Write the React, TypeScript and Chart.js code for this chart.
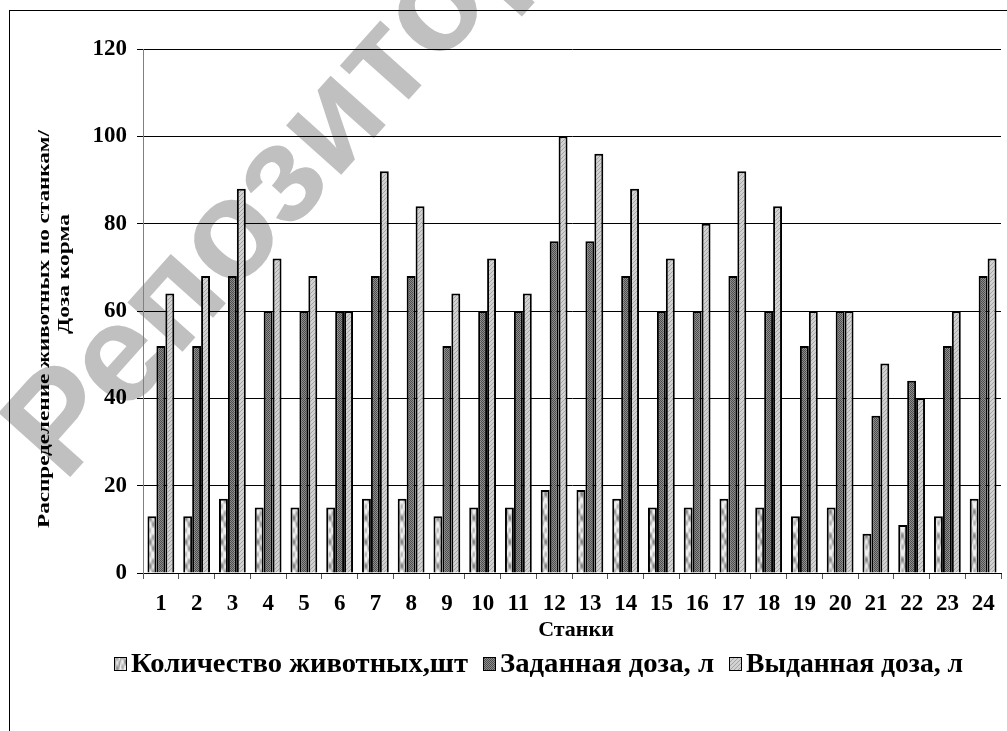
import React, { useEffect, useRef } from "react";
import { Chart, registerables } from "chart.js";

Chart.register(...registerables);

// ---------- data ----------
const stalls = ["1", "2", "3", "4", "5", "6", "7", "8", "9", "10", "11", "12", "13", "14", "15", "16", "17", "18", "19", "20", "21", "22", "23", "24"];
const animalCount = [13, 13, 17, 15, 15, 15, 17, 17, 13, 15, 15, 19, 19, 17, 15, 15, 17, 15, 13, 15, 9, 11, 13, 17];
const setDose = [52, 52, 68, 60, 60, 60, 68, 68, 52, 60, 60, 76, 76, 68, 60, 60, 68, 60, 52, 60, 36, 44, 52, 68];
const givenDose = [64, 68, 88, 72, 68, 60, 92, 84, 64, 72, 64, 100, 96, 88, 72, 80, 92, 84, 60, 60, 48, 40, 60, 72];
const seriesNames = ["Количество животных,шт", "Заданная доза, л", "Выданная доза, л"];
const yMin = 0;
const yMax = 120;
const yStep = 20;
const yTitleLines = ["Распределение животных по станкам/", "Доза корма"];
const xTitle = "Станки";
const watermark = "Репозиторий";

const SERIF = '"Liberation Serif", "Times New Roman", serif';

function makeCanvas(w: number, h: number) {
  const c = document.createElement("canvas");
  c.width = w;
  c.height = h;
  return c;
}

function mottledPattern(ctx: CanvasRenderingContext2D) {
  const w = 12, h = 48;
  const c = makeCanvas(w, h);
  const g = c.getContext("2d")!;
  const img = g.createImageData(w, h);
  for (let y = 0; y < h; y++) {
    for (let x = 0; x < w; x++) {
      const t =
        Math.sin((x / w) * Math.PI * 2 + y * 0.13) * Math.sin((y / h) * Math.PI * 6 + x * 0.3 + 1) +
        0.45 * Math.sin((x / w) * Math.PI * 4 - (y / h) * Math.PI * 8);
      const v = Math.max(120, Math.min(240, Math.round(205 + t * 55)));
      const i = (y * w + x) * 4;
      img.data[i] = v;
      img.data[i + 1] = v;
      img.data[i + 2] = v;
      img.data[i + 3] = 255;
    }
  }
  g.putImageData(img, 0, 0);
  return ctx.createPattern(c, "repeat")!;
}

function checkerPattern(ctx: CanvasRenderingContext2D, a: string, b: string) {
  const c = makeCanvas(2, 2);
  const g = c.getContext("2d")!;
  g.fillStyle = a;
  g.fillRect(0, 0, 2, 2);
  g.fillStyle = b;
  g.fillRect(1, 0, 1, 1);
  g.fillRect(0, 1, 1, 1);
  return ctx.createPattern(c, "repeat")!;
}

function diagPattern(ctx: CanvasRenderingContext2D, base: string, line: string) {
  const c = makeCanvas(4, 4);
  const g = c.getContext("2d")!;
  g.fillStyle = base;
  g.fillRect(0, 0, 4, 4);
  g.fillStyle = line;
  for (let i = 0; i < 4; i++) g.fillRect(i, 3 - i, 1, 1);
  return ctx.createPattern(c, "repeat")!;
}

export default function App() {
  const ref = useRef<HTMLCanvasElement | null>(null);

  useEffect(() => {
    const canvas = ref.current!;
    const ctx0 = canvas.getContext("2d")!;
    const fills = [
      mottledPattern(ctx0),
      checkerPattern(ctx0, "#4c4c4c", "#8e8e8e"),
      diagPattern(ctx0, "#d2d2d2", "#a4a4a4"),
    ];

    const decor = {
      id: "decor",
      beforeDraw(chart: any) {
        const ctx: CanvasRenderingContext2D = chart.ctx;
        ctx.save();
        ctx.fillStyle = "#ffffff";
        ctx.fillRect(0, 0, chart.width, chart.height);
        // watermark
        ctx.translate(64, 484);
        ctx.rotate(-0.84);
        ctx.font = 'bold 140px "Liberation Sans", Arial, sans-serif';
        ctx.fillStyle = "#c0c0c0";
        ctx.textBaseline = "alphabetic";
        ctx.fillText(watermark, 0, 0);
        ctx.restore();
        // outer border
        ctx.save();
        ctx.strokeStyle = "#000";
        ctx.lineWidth = 1;
        ctx.strokeRect(9.5, 10.5, 1200, 1200);
        ctx.restore();
      },
      afterDraw(chart: any) {
        const ctx: CanvasRenderingContext2D = chart.ctx;
        const area = chart.chartArea;
        ctx.save();
        ctx.fillStyle = "#000";
        // y title (two lines, stretched along length)
        ctx.font = `bold 16px ${SERIF}`;
        ctx.textAlign = "center";
        ctx.textBaseline = "middle";
        const yt = [
          { text: yTitleLines[0], x: 45, y: 329, len: 398 },
          { text: yTitleLines[1], x: 65, y: 274, len: 120 },
        ];
        for (const t of yt) {
          ctx.save();
          ctx.translate(t.x, t.y);
          ctx.rotate(-Math.PI / 2);
          const w = ctx.measureText(t.text).width;
          ctx.scale(t.len / w, 1);
          ctx.fillText(t.text, 0, 0);
          ctx.restore();
        }
        // x title
        ctx.font = `bold 22px ${SERIF}`;
        ctx.fillText(xTitle, (area.left + area.right) / 2 + 4, 630);
        // legend
        const legendY = 664;
        const items = [
          { box: 114, len: 337 },
          { box: 483, len: 214 },
          { box: 729, len: 217 },
        ];
        ctx.font = `bold 26px ${SERIF}`;
        ctx.textAlign = "left";
        items.forEach((it, i) => {
          ctx.fillStyle = fills[i];
          ctx.fillRect(it.box, legendY - 7, 13, 14);
          ctx.strokeStyle = "#000";
          ctx.lineWidth = 1;
          ctx.strokeRect(it.box + 0.5, legendY - 6.5, 12, 13);
          ctx.fillStyle = "#000";
          ctx.save();
          ctx.translate(it.box + 17, legendY + 1);
          const w = ctx.measureText(seriesNames[i]).width;
          ctx.scale(it.len / w, 1.08);
          ctx.fillText(seriesNames[i], 0, 0);
          ctx.restore();
        });
        ctx.restore();
      },
    };

    const chart = new Chart(canvas, {
      type: "bar",
      data: {
        labels: stalls,
        datasets: [
          { label: seriesNames[0], data: animalCount, backgroundColor: fills[0] as any, borderColor: "#000", borderWidth: 2 },
          { label: seriesNames[1], data: setDose, backgroundColor: fills[1] as any, borderColor: "#000", borderWidth: 2 },
          { label: seriesNames[2], data: givenDose, backgroundColor: fills[2] as any, borderColor: "#000", borderWidth: 2 },
        ],
      },
      options: {
        animation: false,
        responsive: false,
        devicePixelRatio: 1,
        datasets: { bar: { categoryPercentage: 0.75, barPercentage: 1.0 } },
        layout: { padding: { top: 49, left: 0, right: 6, bottom: 0 } },
        plugins: { legend: { display: false }, tooltip: { enabled: false }, title: { display: false } },
        scales: {
          x: {
            grid: { display: true, drawOnChartArea: false, drawTicks: true, tickLength: 6, color: "#555", offset: true },
            border: { display: true, color: "#000", width: 1 },
            ticks: {
              color: "#000",
              font: { family: SERIF, size: 23, weight: "bold" },
              padding: 11,
              maxRotation: 0,
              autoSkip: false,
            },
            afterFit: (s: any) => {
              s.height = 731 - 573;
            },
          },
          y: {
            min: yMin,
            max: yMax,
            ticks: {
              stepSize: yStep,
              color: "#000",
              font: { family: SERIF, size: 23, weight: "bold" },
              padding: 10,
            },
            grid: { color: "#000", lineWidth: 1, tickLength: 6, drawTicks: true },
            border: { display: true, color: "#808080", width: 1 },
            afterFit: (s: any) => {
              s.width = 143;
            },
          },
        },
      } as any,
      plugins: [decor],
    });
    return () => chart.destroy();
  }, []);

  return (
    <div style={{ position: "absolute", left: 0, top: 0, width: 1007, height: 731 }}>
      <canvas ref={ref} width={1007} height={731} style={{ display: "block", width: 1007, height: 731 }} />
    </div>
  );
}
